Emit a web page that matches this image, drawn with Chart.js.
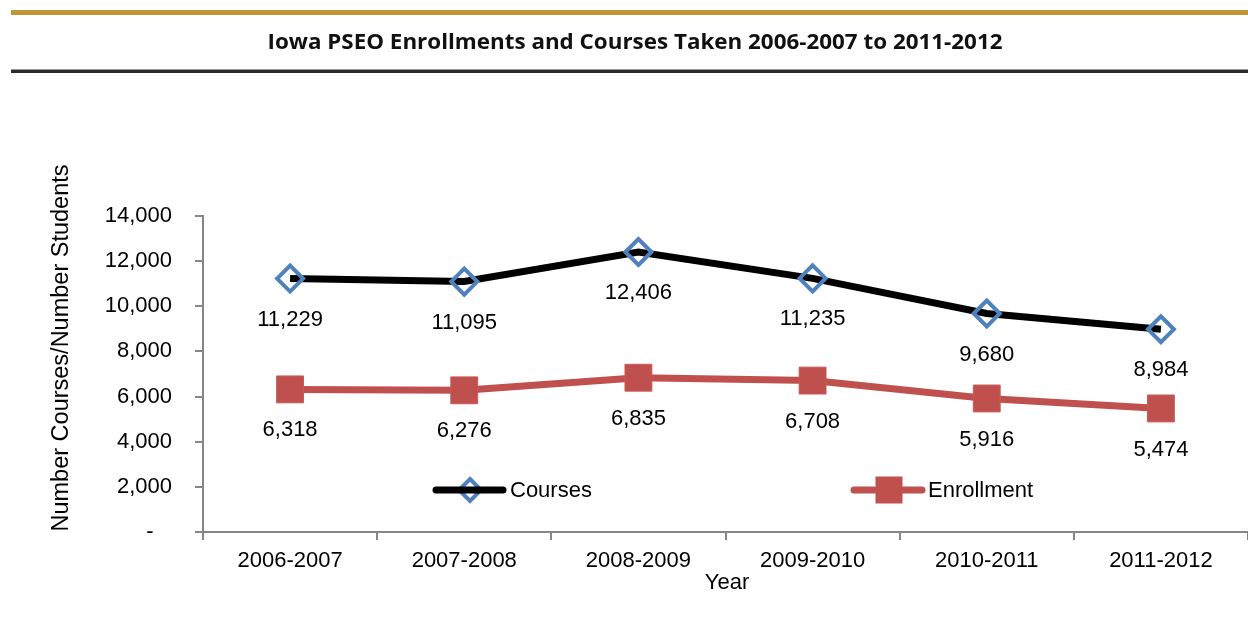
<!DOCTYPE html>
<html>
<head>
<meta charset="utf-8">
<script src="https://cdn.jsdelivr.net/npm/chart.js@4/dist/chart.umd.min.js"></script>
<style>
  html, body { margin: 0; padding: 0; background: #fff; overflow: hidden; }
  #wrap { position: relative; width: 1248px; height: 640px; }
  canvas { position: absolute; left: 0; top: 0; }
</style>
</head>
<body>
<div id="wrap"><canvas id="c" width="1248" height="640"></canvas></div>
<script>
const chartTitle = 'Iowa PSEO Enrollments and Courses Taken 2006-2007 to 2011-2012';
const categories = ['2006-2007', '2007-2008', '2008-2009', '2009-2010', '2010-2011', '2011-2012'];
const coursesValues = [11229, 11095, 12406, 11235, 9680, 8984];
const enrollmentValues = [6318, 6276, 6835, 6708, 5916, 5474];
const yTickValues = [0, 2000, 4000, 6000, 8000, 10000, 12000, 14000];
const yTickLabels = ['-   ', '2,000', '4,000', '6,000', '8,000', '10,000', '12,000', '14,000'];
const seriesNames = ['Courses', 'Enrollment'];
const xAxisTitle = 'Year';
const yAxisTitle = 'Number Courses/Number Students';

const FONT = '"Liberation Sans", Arial, sans-serif';
const AXIS_GREY = '#868686';

const decorPlugin = {
  id: 'decor',
  beforeDraw(chart) {
    const ctx = chart.ctx;
    ctx.save();
    ctx.fillStyle = '#fff';
    ctx.fillRect(0, 0, chart.width, chart.height);
    // gold header bar
    ctx.fillStyle = '#BF9535';
    ctx.fillRect(11, 10, chart.width - 11, 5);
    // dark rule
    ctx.fillStyle = '#2B2B2B';
    ctx.fillRect(11, 70, chart.width - 11, 3);
    ctx.fillStyle = '#9A9A9A';
    ctx.fillRect(11, 69, chart.width - 11, 1);
    // title
    ctx.font = 'bold 22px "Open Sans", sans-serif';
    const w = ctx.measureText(chartTitle).width;
    const target = 735;
    ctx.translate(635, 43);
    ctx.scale(target / w, 1);
    ctx.fillStyle = '#111';
    ctx.textAlign = 'center';
    ctx.textBaseline = 'middle';
    ctx.fillText(chartTitle, 0, 0);
    ctx.restore();
  },
  afterDatasetsDraw(chart) {
    const ctx = chart.ctx;
    ctx.save();
    ctx.font = '22px ' + FONT;
    ctx.fillStyle = '#000';
    ctx.textAlign = 'center';
    ctx.textBaseline = 'middle';
    chart.data.datasets.forEach((ds, di) => {
      const meta = chart.getDatasetMeta(di);
      meta.data.forEach((pt, i) => {
        ctx.fillText(ds.data[i].toLocaleString('en-US'), pt.x, pt.y + 41);
      });
    });
    // axis titles
    ctx.fillText(xAxisTitle, 727, 583);
    ctx.save();
    ctx.font = '23.5px ' + FONT;
    ctx.translate(62, 348);
    ctx.rotate(-Math.PI / 2);
    ctx.fillText(yAxisTitle, 0, 0);
    ctx.restore();

    // legend
    const ly = 490;
    const items = [
      { x0: 436, x1: 503, mx: 470, tx: 510, ds: chart.data.datasets[0], kind: 'diamond' },
      { x0: 854, x1: 922, mx: 889, tx: 928, ds: chart.data.datasets[1], kind: 'square' }
    ];
    items.forEach(it => {
      if (it.kind === 'diamond') {
        ctx.beginPath();
        const r = 11;
        ctx.moveTo(it.mx, ly - r); ctx.lineTo(it.mx + r, ly); ctx.lineTo(it.mx, ly + r); ctx.lineTo(it.mx - r, ly); ctx.closePath();
        ctx.lineWidth = 4; ctx.strokeStyle = it.ds.pointBorderColor; ctx.stroke();
      }
      ctx.beginPath();
      ctx.moveTo(it.x0, ly); ctx.lineTo(it.x1, ly);
      ctx.lineWidth = 7; ctx.lineCap = 'round'; ctx.strokeStyle = it.ds.borderColor; ctx.stroke();
      if (it.kind === 'square') {
        ctx.fillStyle = it.ds.pointBackgroundColor;
        ctx.fillRect(it.mx - 13.5, ly - 13.5, 27, 27);
      }
      ctx.fillStyle = '#000';
      ctx.textAlign = 'left';
      ctx.fillText(it.ds.label, it.tx, ly + 1);
    });
    ctx.restore();
  }
};

new Chart(document.getElementById('c'), {
  type: 'line',
  data: {
    labels: categories,
    datasets: [
      {
        label: seriesNames[0],
        data: coursesValues,
        borderColor: '#000000',
        borderWidth: 7,
        pointStyle: 'rectRot',
        pointRadius: 13,
        pointHoverRadius: 13,
        pointBorderColor: '#4F81BD',
        pointBackgroundColor: 'rgba(0,0,0,0)',
        pointBorderWidth: 4,
        tension: 0,
        order: 1
      },
      {
        label: seriesNames[1],
        data: enrollmentValues,
        borderColor: '#C0504D',
        borderWidth: 7,
        pointStyle: 'rect',
        pointRadius: 19,
        pointHoverRadius: 19,
        pointBorderColor: '#C65A57',
        pointBackgroundColor: '#C0504D',
        pointBorderWidth: 1,
        tension: 0,
        order: 2
      }
    ]
  },
  options: {
    responsive: false,
    animation: false,
    events: [],
    layout: { autoPadding: false, padding: { top: 216, left: 0, right: 0, bottom: 0 } },
    plugins: { legend: { display: false }, tooltip: { enabled: false }, title: { display: false } },
    scales: {
      x: {
        type: 'category',
        offset: true,
        grid: { display: true, drawOnChartArea: false, offset: true, tickLength: 8, color: AXIS_GREY, lineWidth: 2 },
        border: { display: true, color: AXIS_GREY, width: 2 },
        ticks: { font: { family: FONT, size: 22 }, color: '#000', padding: 8, maxRotation: 0, autoSkip: false },
        afterFit(scale) { scale.height = 108; scale.paddingLeft = 0; scale.paddingRight = 0; }
      },
      y: {
        min: 0,
        max: 14000,
        afterBuildTicks(scale) { scale.ticks = yTickValues.map(v => ({ value: v })); },
        grid: { display: true, drawOnChartArea: false, tickLength: 8, color: AXIS_GREY, lineWidth: 2 },
        border: { display: true, color: AXIS_GREY, width: 2 },
        ticks: {
          font: { family: FONT, size: 22 }, color: '#000', padding: 23,
          callback(v) { const i = yTickValues.indexOf(v); return i >= 0 ? yTickLabels[i] : ''; }
        },
        afterFit(scale) { scale.width = 203; scale.paddingTop = 0; scale.paddingBottom = 0; }
      }
    }
  },
  plugins: [decorPlugin]
});
</script>
</body>
</html>
